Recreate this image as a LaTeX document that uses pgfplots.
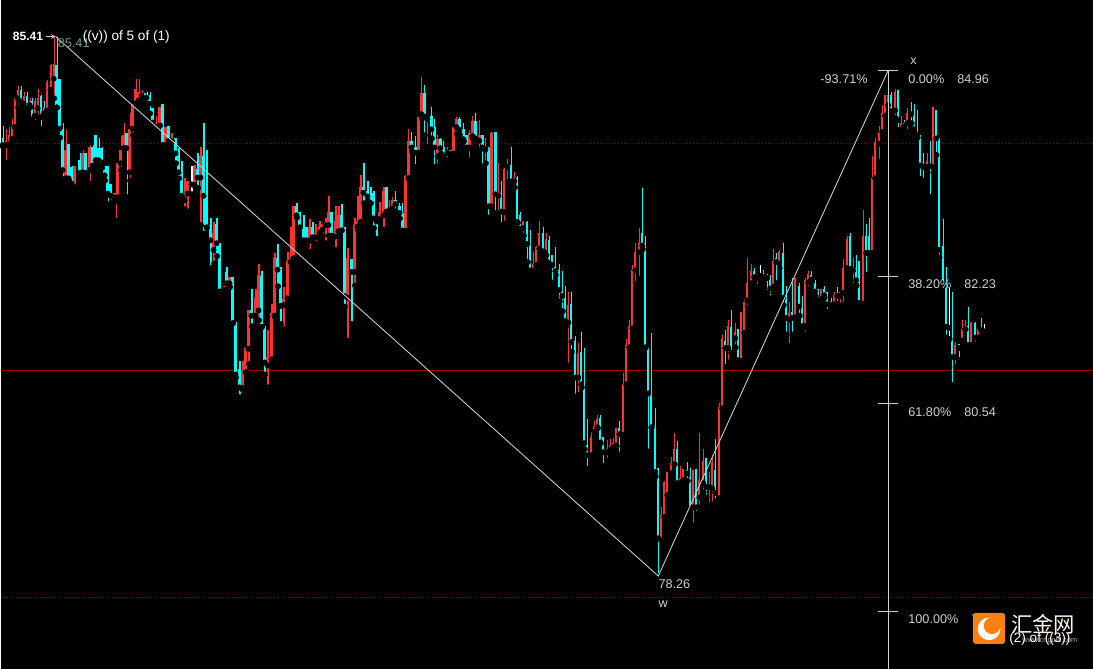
\documentclass[border=0pt]{standalone}
\usepackage{pgfplots}
\usepackage{pgfplotstable}
\usepackage{fontspec}
\pgfplotsset{compat=1.18}
\setmainfont{Liberation Sans}
\newfontfamily\cjk{Noto Sans CJK SC}
\definecolor{upc}{HTML}{FF3333}
\definecolor{dnc}{HTML}{00FFFF}
\definecolor{txt}{HTML}{CFCFCF}
\definecolor{lvl}{HTML}{A00000}
\definecolor{gridc}{HTML}{5E1414}
\definecolor{logo}{HTML}{FF8010}
\pgfplotstableread{
x l b t h
5 83.74 83.97 84.03 84.19
8 83.97 83.98 84.10 84.21
11 84.01 84.05 84.22 84.32
14 84.21 84.21 84.59 84.59
17 84.47 84.59 84.70 84.76
23 84.48 84.52 84.62 84.67
29 84.47 84.50 84.56 84.60
34 84.26 84.36 84.56 84.60
37 84.34 84.46 84.59 84.71
46 84.40 84.43 84.81 84.84
50 84.70 84.70 85.03 85.05
53 84.59 84.85 85.05 85.41
65 83.53 83.53 83.91 84.17
74 83.41 83.41 83.70 83.70
82 83.57 83.61 83.86 83.90
89 83.46 83.64 83.95 83.97
113 83.21 83.28 83.34 83.34
115 82.97 83.26 83.34 83.34
117 83.27 83.28 83.74 83.74
120 83.64 83.73 83.90 84.09
123 83.93 83.93 84.11 84.27
129 83.50 83.61 84.19 84.40
132 84.10 84.19 84.52 84.52
135 84.52 84.52 84.72 84.85
138 84.56 84.56 84.67 84.85
141 84.56 84.63 84.67 84.70
155 84.17 84.21 84.27 84.36
159 84.23 84.23 84.48 84.48
165 83.90 83.97 84.21 84.21
171 84.02 84.02 84.06 84.13
184 83.12 83.24 83.34 83.54
187 83.09 83.33 83.48 83.49
194 83.42 83.44 83.70 83.71
200 82.91 83.54 83.82 83.95
213 82.40 82.58 82.80 82.95
223 81.99 82.05 82.07 82.11
229 82.09 82.14 82.22 82.22
242 80.72 80.75 80.99 81.11
245 80.96 80.96 81.28 81.29
248 81.07 81.27 81.78 81.79
255 81.66 81.71 81.95 82.07
258 81.65 81.78 82.25 82.40
267 80.76 81.05 81.16 81.52
271 81.13 81.13 81.74 81.86
274 81.69 81.71 82.47 82.54
283 81.53 81.85 81.93 82.09
287 81.89 81.94 82.43 82.56
290 82.42 82.42 82.47 82.88
293 82.47 82.47 83.16 83.17
309 82.56 82.70 82.88 82.99
315 82.66 82.75 82.81 82.93
319 82.77 82.81 82.88 82.97
322 82.77 82.85 82.92 82.92
325 82.67 82.91 82.95 83.00
328 82.77 82.91 83.09 83.29
335 82.58 82.76 82.97 83.16
338 82.76 82.83 83.04 83.16
347 81.38 81.95 82.48 82.61
354 82.11 82.29 82.91 83.00
357 82.85 82.89 82.97 83.29
360 82.95 82.95 83.41 83.57
379 82.95 82.99 83.08 83.22
383 82.85 83.04 83.36 83.41
389 83.07 83.11 83.13 83.24
392 83.07 83.13 83.24 83.28
405 82.83 82.83 83.56 83.57
408 83.53 83.53 84.03 84.19
418 83.86 83.87 84.34 84.35
421 84.32 84.38 84.66 84.88
427 83.95 84.31 84.35 84.36
437 83.69 83.82 84.05 84.11
447 83.77 83.87 83.91 83.94
453 83.85 83.86 84.21 84.21
456 84.12 84.21 84.32 84.34
469 83.77 83.94 84.13 84.17
472 84.06 84.09 84.29 84.36
479 83.90 84.03 84.10 84.30
485 83.73 83.91 83.94 84.07
491 83.12 83.16 84.13 84.14
498 83.07 83.30 83.34 83.74
504 82.93 83.08 83.66 83.67
507 83.48 83.68 83.71 83.79
514 83.41 83.49 83.54 83.61
523 82.77 82.87 82.95 82.96
533 82.25 82.31 82.39 82.56
536 82.32 82.38 82.62 82.63
539 82.59 82.60 82.81 82.96
546 82.43 82.51 82.72 82.80
568 81.05 81.62 81.85 82.02
578 80.66 80.89 81.20 81.35
591 79.79 79.86 80.10 80.17
594 80.13 80.17 80.25 80.32
597 80.22 80.23 80.34 80.40
607 79.79 79.90 79.94 80.06
610 79.89 79.93 79.98 80.07
613 79.91 79.97 80.02 80.09
616 79.98 79.99 80.22 80.22
623 80.13 80.13 80.81 80.95
626 80.79 80.80 81.32 81.40
629 81.29 81.29 81.57 81.65
632 81.54 81.54 82.31 82.38
635 82.13 82.31 82.55 82.67
639 82.20 82.55 82.68 82.87
661 78.70 78.73 79.07 79.17
664 79.04 79.04 79.50 79.52
667 79.33 79.33 79.64 79.64
671 79.62 79.62 79.76 79.84
674 79.74 79.74 79.94 80.15
680 79.44 79.49 79.56 79.72
683 79.46 79.53 79.68 79.68
693 78.93 79.17 79.66 79.66
699 79.17 79.30 79.53 80.15
703 79.37 79.49 79.79 79.94
709 79.20 79.44 79.46 79.64
712 79.21 79.42 79.77 79.87
719 79.28 79.29 80.50 80.55
722 80.48 80.48 81.40 81.46
728 81.09 81.28 81.57 81.65
735 81.29 81.41 81.49 81.61
741 81.11 81.11 81.76 81.76
744 81.46 81.48 81.89 81.93
747 81.81 81.91 82.15 82.47
751 82.06 82.14 82.30 82.40
757 82.09 82.22 82.25 82.26
773 82.01 82.09 82.44 82.59
779 82.34 82.40 82.55 82.58
789 81.31 81.66 81.74 81.89
795 81.68 81.69 82.21 82.22
805 81.46 81.57 82.18 82.21
808 82.06 82.15 82.26 82.30
821 81.90 81.93 82.07 82.07
834 81.80 81.86 81.99 82.02
840 81.84 81.97 82.02 82.03
843 81.85 82.01 82.34 82.46
847 82.30 82.34 82.73 82.77
853 82.11 82.31 82.35 82.47
863 81.85 81.87 82.76 83.11
872 82.46 82.54 83.54 83.83
875 83.53 83.53 84.01 84.07
879 83.75 83.99 84.15 84.23
882 84.14 84.14 84.39 84.50
885 84.36 84.36 84.63 84.63
888 84.40 84.50 84.63 84.67
895 84.33 84.43 84.67 84.71
901 84.17 84.18 84.27 84.36
907 84.14 84.26 84.40 84.46
927 83.61 83.68 83.76 83.87
933 83.60 83.68 84.47 84.48
955 81.03 81.16 81.32 81.36
962 81.37 81.38 81.53 81.65
965 81.53 81.53 81.58 81.65
971 81.31 81.32 81.61 81.62
978 81.41 81.42 81.54 81.54
}\upT
\pgfplotstableread{
x l b t h
2 83.94 83.97 84.07 84.22
20 84.54 84.55 84.70 84.76
26 84.43 84.43 84.62 84.67
31 84.30 84.31 84.55 84.60
40 84.19 84.34 84.62 84.63
43 84.36 84.39 84.46 84.56
56 84.47 84.47 85.03 85.41
59 84.07 84.19 84.85 84.85
62 83.50 83.64 84.19 84.26
68 83.50 83.53 83.99 83.99
71 83.39 83.46 83.68 83.70
79 83.54 83.60 83.77 83.86
85 83.53 83.60 83.86 83.86
92 83.64 83.70 83.95 83.97
95 83.77 83.77 84.11 84.11
98 83.73 83.77 83.93 84.07
101 83.67 83.74 83.93 83.94
104 83.50 83.57 83.70 83.70
107 83.17 83.33 83.70 83.70
110 83.21 83.30 83.46 83.46
126 83.28 83.93 84.13 84.13
144 84.58 84.58 84.66 84.66
149 84.39 84.52 84.63 84.68
152 84.21 84.27 84.46 84.46
162 83.97 83.97 84.51 84.51
168 84.03 84.03 84.22 84.22
175 83.73 83.86 84.06 84.06
178 83.53 83.61 83.86 83.93
181 83.28 83.30 83.62 83.76
197 83.40 83.54 83.66 83.87
203 82.80 83.30 83.82 84.26
206 82.88 82.88 83.33 83.91
210 82.34 82.71 82.91 83.00
216 82.50 82.67 82.92 83.00
219 82.03 82.03 82.68 82.68
226 82.13 82.14 82.29 82.36
232 81.61 81.61 82.22 82.22
235 80.89 80.93 81.62 81.62
239 80.63 80.76 81.00 81.11
251 81.57 81.71 81.79 82.06
261 81.56 81.56 82.23 82.30
264 80.93 81.09 81.57 81.58
277 82.10 82.32 82.47 82.66
280 81.60 81.84 82.35 82.35
296 83.01 83.04 83.16 83.21
299 82.88 82.88 83.08 83.09
303 82.66 82.71 82.89 83.04
306 82.63 82.71 82.88 82.88
312 82.70 82.75 82.88 82.95
331 82.77 82.77 83.08 83.09
341 82.84 82.84 83.04 83.19
344 81.83 81.97 82.85 82.89
351 81.60 82.29 82.46 82.46
363 83.20 83.34 83.41 83.74
367 83.23 83.29 83.36 83.49
370 83.20 83.20 83.30 83.41
373 82.87 83.00 83.34 83.36
376 82.73 82.96 83.00 83.01
386 83.08 83.09 83.41 83.41
395 83.09 83.19 83.24 83.36
399 83.00 83.07 83.17 83.21
402 82.77 82.84 83.07 83.21
411 83.89 83.94 84.03 84.15
415 83.68 83.87 83.95 84.09
424 84.10 84.35 84.66 84.77
431 84.06 84.18 84.36 84.47
434 83.68 83.94 84.21 84.32
440 83.86 83.93 84.05 84.06
443 83.82 83.82 83.94 84.03
450 83.81 83.86 83.91 83.91
459 84.11 84.17 84.32 84.35
463 84.02 84.05 84.19 84.26
466 83.91 83.94 84.10 84.10
475 84.05 84.06 84.29 84.40
482 83.69 83.94 84.10 84.11
488 83.01 83.16 83.93 83.94
495 83.07 83.32 84.14 84.15
501 82.91 83.09 83.33 83.49
511 83.48 83.49 83.71 83.95
517 82.94 82.95 83.54 83.56
520 82.86 82.86 83.04 83.08
527 82.42 82.66 82.95 82.97
530 82.29 82.31 82.66 82.84
543 82.56 82.56 82.81 82.88
549 82.36 82.40 82.71 82.76
552 82.15 82.38 82.51 82.51
555 82.25 82.30 82.36 82.62
559 81.90 82.05 82.32 82.39
562 81.77 81.97 82.07 82.30
565 81.56 81.64 81.97 82.11
571 81.23 81.36 81.86 82.02
575 80.64 80.89 81.38 81.44
581 80.76 80.80 81.23 81.49
584 79.94 80.02 80.80 81.28
587 79.68 79.86 80.04 80.34
600 80.02 80.03 80.36 80.40
603 79.72 79.90 80.10 80.10
619 79.87 80.14 80.22 80.32
642 82.59 82.64 82.80 83.40
645 81.29 81.29 82.67 82.76
648 79.91 80.68 81.25 81.29
651 80.23 80.23 80.70 81.48
655 79.58 79.64 80.25 80.49
658 78.26 78.76 79.69 79.69
677 79.48 79.49 79.94 80.05
687 79.52 79.62 79.66 79.77
690 79.15 79.16 79.57 79.69
696 79.08 79.17 79.68 79.68
706 79.30 79.44 79.82 79.82
715 79.25 79.36 79.66 80.07
725 81.03 81.28 81.38 81.52
731 81.21 81.22 81.56 81.78
738 81.04 81.12 81.54 81.54
754 82.17 82.22 82.30 82.34
763 82.14 82.22 82.25 82.31
767 82.01 82.21 82.22 82.26
770 81.94 82.07 82.22 82.25
776 82.14 82.42 82.47 82.54
783 81.85 81.95 82.54 82.67
786 81.46 81.68 81.95 82.10
792 81.46 81.68 81.76 82.21
799 81.71 81.83 82.11 82.14
802 81.52 81.57 81.85 81.97
811 82.15 82.19 82.25 82.30
815 81.97 82.03 82.15 82.18
818 81.91 81.91 82.06 82.06
824 81.95 81.98 82.06 82.10
827 81.76 81.86 82.02 82.02
831 81.83 81.85 81.89 81.95
837 81.87 81.97 82.01 82.09
850 82.33 82.33 82.76 82.81
856 82.11 82.18 82.34 82.52
859 81.80 81.88 82.43 82.43
866 82.25 82.54 82.76 82.92
869 82.46 82.54 82.76 83.01
891 84.40 84.42 84.63 84.67
898 84.17 84.30 84.70 84.70
904 84.17 84.22 84.27 84.30
911 84.26 84.38 84.40 84.54
914 84.14 84.18 84.40 84.52
917 84.07 84.09 84.19 84.44
920 83.52 83.70 84.11 84.11
923 83.50 83.68 83.72 83.87
930 83.28 83.69 83.74 84.03
936 83.84 84.06 84.44 84.44
939 82.48 82.58 84.07 84.07
943 82.11 82.14 82.63 82.99
946 81.42 81.56 82.14 82.35
952 80.79 81.16 81.42 82.02
959 81.12 81.28 81.33 81.33
968 81.28 81.32 81.58 81.83
975 81.33 81.42 81.61 81.62
981 81.44 81.52 81.53 81.68
}\downT
\pgfplotstableread{
x l b t h
146 84.52 84.60 84.62 84.67
191 83.32 83.45 83.47 83.69
760 82.18 82.24 82.26 82.38
949 81.40 81.55 81.57 82.08
984 81.50 81.50 81.52 81.60
}\dojiT
\newcommand{\candles}[2]{%
  \addplot[forget plot, only marks, mark=none, error bars/.cd, y dir=plus, y explicit, error mark=none,
    error bar style={color=#2, line width=0.85pt}]
    table[x expr=\thisrow{x}+0.5, y=l, y error plus expr=\thisrow{h}-\thisrow{l}] {#1};
  \addplot[forget plot, only marks, mark=none, error bars/.cd, y dir=plus, y explicit, error mark=none,
    error bar style={color=#2, line width=1.7pt}]
    table[x=x, y=b, y error plus expr=\thisrow{t}-\thisrow{b}] {#1};
}
\newcommand{\lbl}[4][txt]{\node[anchor=west, inner sep=0pt, text=#1, font=\fontsize{9.5}{11}\selectfont] at (axis cs:#2,#3) {#4};}
\pgfplotsset{pane/.style={at={(0,0)}, anchor=south west, width=819.75pt, height=501.75pt, scale only axis, hide axis,
  xmin=0, xmax=1093, ymin=77.033, ymax=85.894}}
\begin{document}
\begin{tikzpicture}
\fill[black] (0,0) rectangle (819.75pt,501.75pt);
\begin{axis}[pane]
\addplot[forget plot, gridc, line width=0.75pt, dash pattern=on 0.75pt off 1.5pt] coordinates {(0,83.993) (1093,83.993)};
\addplot[forget plot, gridc, line width=0.75pt, dash pattern=on 0.75pt off 1.5pt] coordinates {(0,77.98) (1093,77.98)};
\addplot[forget plot, lvl, line width=0.9pt] coordinates {(0,80.987) (1093,80.987)};
\candles{\upT}{upc}
\candles{\downT}{dnc}
\candles{\dojiT}{white}
\end{axis}
\begin{axis}[pane]
\addplot[forget plot, color=txt, line width=0.65pt] coordinates {(55,85.41) (658,78.26) (888,84.96)};
\addplot[forget plot, color=txt, line width=0.75pt] coordinates {(888.5,84.96) (888.5,77.03)};
\addplot[forget plot, color=txt, line width=0.75pt] coordinates {(878,84.96) (898,84.96)};
\addplot[forget plot, color=txt, line width=0.75pt] coordinates {(878,82.23) (898,82.23)};
\addplot[forget plot, color=txt, line width=0.75pt] coordinates {(878,80.54) (898,80.54)};
\addplot[forget plot, color=txt, line width=0.75pt] coordinates {(878,77.79) (898,77.79)};
\addplot[forget plot, color=txt, line width=0.6pt, ->, >=stealth] coordinates {(45,85.41) (55,85.41)};
\node[anchor=west, inner sep=0pt, text=white, font=\fontsize{9}{11}\selectfont\bfseries] at (axis cs:12,85.41) {85.41};
\lbl[gray!80!green!90!white]{57}{85.32}{85.41}
\node[anchor=west, inner sep=0pt, text=white, font=\fontsize{10.2}{12}\selectfont] at (axis cs:82,85.41) {((v)) of 5 of (1)};
\lbl{820}{84.85}{-93.71\%}
\lbl{910}{85.08}{x}
\lbl{908}{84.85}{0.00\%}
\lbl{957}{84.85}{84.96}
\lbl{908}{82.13}{38.20\%}
\lbl{964}{82.13}{82.23}
\lbl{908}{80.43}{61.80\%}
\lbl{964}{80.43}{80.54}
\lbl{908}{77.69}{100.00\%}
\lbl{971}{77.69}{77.79}
\lbl{658}{78.15}{78.26}
\lbl{658}{77.89}{w}
\fill[logo, rounded corners=2pt] (axis cs:973,77.77) rectangle (axis cs:1005,77.36);
\fill[white] (axis cs:989,77.56) circle[radius=8.5pt];
\fill[logo] (axis cs:992,77.60) circle[radius=6.2pt];
\node[anchor=west, inner sep=0pt, text=white!92!orange, font=\cjk\fontsize{16}{18}\selectfont] at (axis cs:1011,77.62) {汇金网};
\node[anchor=west, inner sep=0pt, text=gray!60, font=\fontsize{5.5}{6}\selectfont] at (axis cs:1022,77.40) {www.cngold.com};
\node[anchor=west, inner sep=0pt, text=white, font=\fontsize{10.2}{12}\selectfont] at (axis cs:1009,77.42) {(2) of ((3))};
\end{axis}
\end{tikzpicture}
\end{document}
